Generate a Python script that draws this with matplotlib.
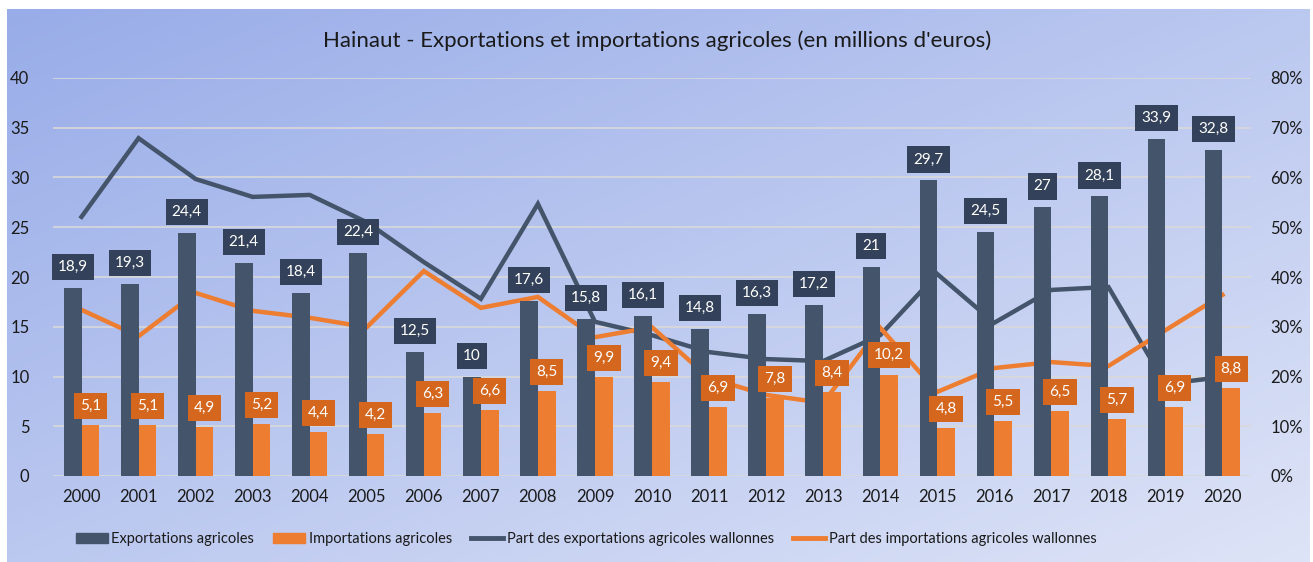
import numpy as np
import matplotlib
matplotlib.use("Agg")
import matplotlib.pyplot as plt
from matplotlib.patches import Patch
from matplotlib.lines import Line2D
from matplotlib.ticker import FuncFormatter

plt.rcParams['font.family'] = ['Lato', 'DejaVu Sans']

# data
years = [str(y) for y in range(2000, 2021)]
exports = [18.9, 19.3, 24.4, 21.4, 18.4, 22.4, 12.5, 10, 17.6, 15.8, 16.1,
           14.8, 16.3, 17.2, 21, 29.7, 24.5, 27, 28.1, 33.9, 32.8]
imports = [5.1, 5.1, 4.9, 5.2, 4.4, 4.2, 6.3, 6.6, 8.5, 9.9, 9.4,
           6.9, 7.8, 8.4, 10.2, 4.8, 5.5, 6.5, 5.7, 6.9, 8.8]
share_exp = [52.1, 67.9, 59.7, 56.1, 56.5, 51.0, 43.0, 35.6, 54.7, 31.0, 28.3,
             24.9, 23.5, 23.1, 28.3, 40.6, 30.8, 37.4, 38.0, 18.5, 19.9]
share_imp = [33.4, 28.1, 36.8, 33.2, 31.8, 29.9, 41.2, 33.8, 36.0, 27.9, 29.9,
             19.7, 16.3, 14.7, 29.8, 16.9, 21.7, 22.9, 22.1, 29.3, 36.4]

title = "Hainaut - Exportations et importations agricoles (en millions d'euros)"
labels = ["Exportations agricoles", "Importations agricoles",
          "Part des exportations agricoles wallonnes",
          "Part des importations agricoles wallonnes"]

dark = "#44546a"
orange = "#ed7d31"

W, H = 1313, 562
fig = plt.figure(figsize=(W / 100, H / 100), dpi=100)

# gradient background
bg = fig.add_axes([7 / W, 0, 1303 / W, 553 / H])
gx, gy = np.meshgrid(np.linspace(0, 1, 300), np.linspace(0, 1, 150))
t = (gx + gy) / 2
c0 = np.array([152, 172, 232]) / 255
c1 = np.array([222, 228, 247]) / 255
img = c0 + (c1 - c0) * t[..., None]
bg.imshow(img, aspect='auto', extent=(0, 1, 1, 0))
bg.axis('off')

rect = [53 / W, 1 - 476 / H, (1251 - 53) / W, (476 - 78) / H]
ax2 = fig.add_axes(rect)   # lines (below)
ax = fig.add_axes(rect, sharex=ax2)  # bars (above)
for a in (ax, ax2):
    a.patch.set_visible(False)
    for s in a.spines.values():
        s.set_visible(False)

x = np.arange(len(years))
w = 0.31

# share lines on the right axis
ax2.plot(x, share_exp, color=dark, lw=3.2, solid_joinstyle='miter', zorder=2)
ax2.plot(x, share_imp, color=orange, lw=3.2, solid_joinstyle='miter', zorder=2)
ax2.set_ylim(0, 80)
ax2.set_yticks(np.arange(0, 81, 10))
ax2.yaxis.set_major_formatter(FuncFormatter(lambda v, p: f"{int(v)}%"))
ax2.yaxis.tick_right()
ax2.grid(axis='y', color='#d9d9d9', lw=1.2, zorder=0)
ax2.set_axisbelow(True)
ax2.tick_params(axis='y', length=0, labelsize=12, pad=14, labelcolor='#1a1a1a')
ax2.tick_params(axis='x', length=0, labelbottom=False)

# bars on the left axis
ax.bar(x - w / 2, exports, w, color=dark, zorder=3)
ax.bar(x + w / 2, imports, w, color=orange, zorder=3)
ax.set_ylim(0, 40)
ax.set_yticks(np.arange(0, 41, 5))
ax.set_xlim(-0.5, len(years) - 0.5)
ax.set_xticks(x)
ax.set_xticklabels(years)
ax.tick_params(axis='both', length=0, labelsize=12, labelcolor='#1a1a1a')
ax.tick_params(axis='x', pad=9)
ax.tick_params(axis='y', pad=17)

def fmt(v):
    s = f"{v:g}"
    return s.replace('.', ',')

for i in range(len(years)):
    ax.annotate(fmt(exports[i]), (x[i] - w / 2, exports[i]), xytext=(0, 10),
                textcoords='offset points', ha='center', va='bottom',
                color='white', fontsize=11, zorder=5,
                bbox=dict(boxstyle='square,pad=0.4', fc='#33425a', ec='none'))
    ax.annotate(fmt(imports[i]), (x[i] + w / 2, imports[i]), xytext=(0, 9),
                textcoords='offset points', ha='center', va='bottom',
                color='white', fontsize=11, zorder=5,
                bbox=dict(boxstyle='square,pad=0.4', fc='#d4661d', ec='none'))

fig.text(657 / W, 1 - 41 / H, title, ha='center', va='center', fontsize=16,
         color='#1a1a1a')

handles = [Patch(color=dark), Patch(color=orange),
           Line2D([], [], color=dark, lw=3.5), Line2D([], [], color=orange, lw=3.5)]
fig.legend(handles, labels, loc='center', bbox_to_anchor=(586 / W, 1 - 539 / H),
           ncol=4, frameon=False, fontsize=10.5, handlelength=2.2,
           handleheight=0.65, handletextpad=0.25, columnspacing=1.3,
           labelcolor='#1a1a1a')

fig.savefig("out.png", dpi=100, facecolor='white')
